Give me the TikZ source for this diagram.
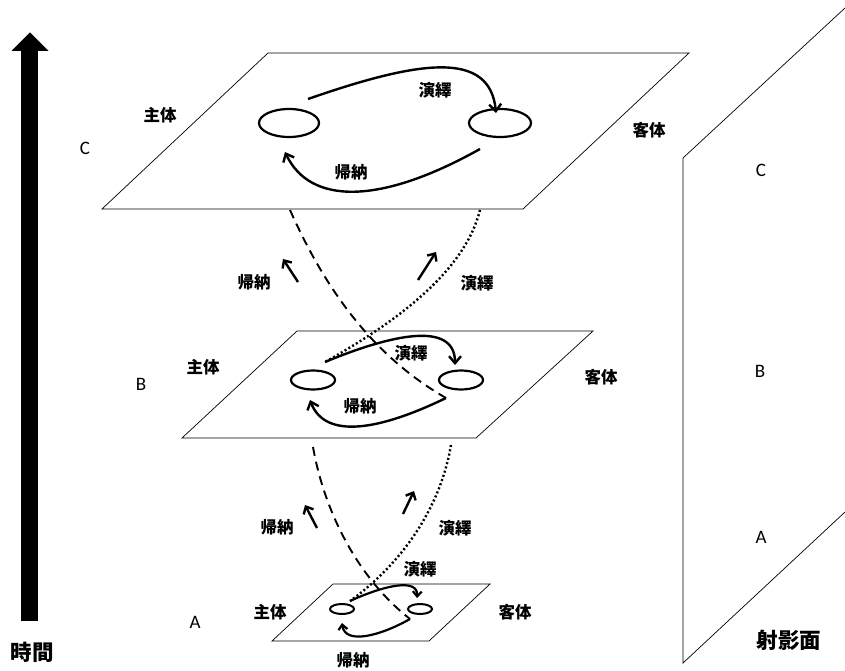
\documentclass[tikz,border=0pt]{standalone}
\usepackage{fontspec}
\setmainfont{Carlito}
\newfontfamily\jp{Noto Sans CJK JP}
\usetikzlibrary{arrows.meta,shapes.geometric}
\begin{document}
\begin{tikzpicture}[x=1pt,y=-1pt,
  plane/.style={draw=black,line width=0.7pt,fill=white},
  blob/.style={draw=black,line width=2.2pt,ellipse,inner sep=0pt},
  loopar/.style={line width=2.4pt,-{Straight Barb[length=7pt,width=12pt]}},
  smallar/.style={line width=2.4pt,-{Straight Barb[length=6pt,width=11pt]}},
  ind/.style={line width=1.9pt,dash pattern=on 9pt off 6pt},
  ded/.style={line width=2.4pt,dash pattern=on 2pt off 2.4pt},
  jl/.style={font=\jp\bfseries\fontsize{16.5}{16.5}\selectfont,inner sep=0pt},
  jbig/.style={font=\jp\bfseries\fontsize{21.5}{21.5}\selectfont,inner sep=0pt},
  lt/.style={font=\fontsize{19}{19}\selectfont,inner sep=0pt}]
\useasboundingbox (0,0) rectangle (845,671);

% time arrow
\fill (21,51) rectangle (38,621);
\fill (11.5,51) -- (48.5,51) -- (30,32.5) -- cycle;
\node[jbig] (time) at (32,652) {時間};

% projection plane
\coordinate (p1) at (683,158);
\coordinate (p2) at (845,8);
\coordinate (p3) at (683,663);
\coordinate (p4) at (845,512);
\draw[line width=0.7pt] (p2) -- (p1) -- (p3) -- (p4);
\node[lt] (pc) at (761,170) {C};
\node[lt] (pb) at (760,371) {B};
\node[lt] (pa) at (761,537) {A};
\node[jbig] (proj) at (789,640) {射影面};

% planes
\draw[plane] (268,53) -- (689,53) -- (523,209) -- (102,209) -- cycle;
\draw[plane] (297,331) -- (593,331) -- (476,438) -- (182,438) -- cycle;
\draw[plane] (333,584) -- (490,584) -- (429,641) -- (272,641) -- cycle;

% top plane content
\node[blob,minimum width=60pt,minimum height=28pt] (cs) at (289,123) {};
\node[blob,minimum width=62pt,minimum height=28pt] (co) at (500,123) {};
\coordinate (cd1) at (308,99);
\coordinate (cd2) at (496,113);
\coordinate (ci1) at (480,149);
\coordinate (ci2) at (285,152);
\draw[loopar] (cd1) .. controls (420,60) and (490,50) .. (cd2);
\draw[loopar] (ci1) .. controls (380,205) and (310,205) .. (ci2);
\node[jl] (cdl) at (435,90) {演繹};
\node[jl] (cil) at (351,172) {帰納};
\node[jl] (csl) at (160,115) {主体};
\node[jl] (col) at (649,130) {客体};
\node[lt] (cl) at (85,148) {C};

% middle plane content
\node[blob,minimum width=44pt,minimum height=19pt] (bs) at (313,380) {};
\node[blob,minimum width=44pt,minimum height=19pt] (bo) at (461,380) {};
\coordinate (bd1) at (325,362);
\coordinate (bd2) at (455,365);
\coordinate (bi1) at (446,398);
\coordinate (bi2) at (310,400);
\draw[loopar] (bd1) .. controls (390,335) and (455,320) .. (bd2);
\draw[loopar] (bi1) .. controls (380,430) and (325,440) .. (bi2);
\node[jl] (bdl) at (411,353) {演繹};
\node[jl] (bil) at (360,406) {帰納};
\node[jl] (bsl) at (203,367) {主体};
\node[jl] (bol) at (601,377) {客体};
\node[lt] (bl) at (141,384) {B};

% bottom plane content
\node[blob,line width=2pt,minimum width=24pt,minimum height=10pt] (as) at (342,609) {};
\node[blob,line width=2pt,minimum width=24pt,minimum height=10pt] (ao) at (420,609) {};
\coordinate (ad1) at (350,601);
\coordinate (ad2) at (417,598);
\coordinate (ai1) at (410,619);
\coordinate (ai2) at (342,623);
\draw[loopar,line width=2.2pt,-{Straight Barb[length=5pt,width=9pt]}] (ad1) .. controls (385,585) and (418,578) .. (ad2);
\draw[loopar,line width=2.2pt,-{Straight Barb[length=5pt,width=9pt]}] (ai1) .. controls (380,636) and (345,645) .. (ai2);
\node[jl] (adl) at (420,569) {演繹};
\node[jl] (ail) at (353,660) {帰納};
\node[jl] (asl) at (270,612) {主体};
\node[jl] (aol) at (515,612) {客体};
\node[lt] (al) at (195,622) {A};

% connections C-B
\coordinate (cbi0) at (290,210);
\coordinate (cbd0) at (480,210);
\draw[ind] (cbi0) .. controls (330,300) and (380,360) .. (bi1);
\draw[ded] (cbd0) .. controls (465,270) and (400,320) .. (bd1);
\coordinate (s1a) at (298,282);
\coordinate (s1b) at (283,259);
\draw[smallar] (s1a) -- (s1b);
\coordinate (s2a) at (418,280);
\coordinate (s2b) at (436,252);
\draw[smallar] (s2a) -- (s2b);
\node[jl] (cbil) at (254,282) {帰納};
\node[jl] (cbdl) at (477,283) {演繹};

% connections B-A
\coordinate (bai0) at (313,447);
\coordinate (bad0) at (451,445);
\draw[ind] (bai0) .. controls (325,515) and (360,580) .. (ai1);
\draw[ded] (bad0) .. controls (440,510) and (400,565) .. (ad1);
\coordinate (s3a) at (317,528);
\coordinate (s3b) at (305,505);
\draw[smallar] (s3a) -- (s3b);
\coordinate (s4a) at (403,514);
\coordinate (s4b) at (414,491);
\draw[smallar] (s4a) -- (s4b);
\node[jl] (bail) at (277,527) {帰納};
\node[jl] (badl) at (455,528) {演繹};
\end{tikzpicture}
\end{document}
